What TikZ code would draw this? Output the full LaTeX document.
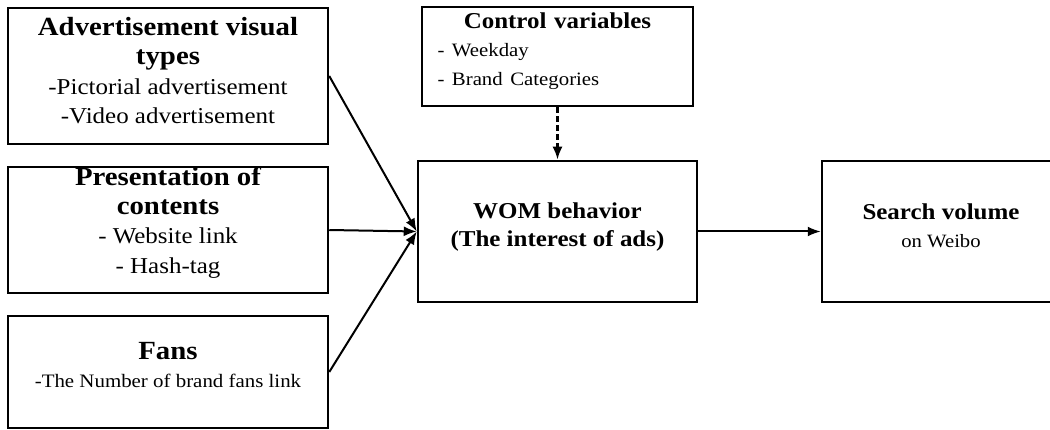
\documentclass[tikz,border=0pt]{standalone}
\usepackage{fontspec}
\setmainfont{Liberation Serif}[FakeStretch=1.1]
\usetikzlibrary{arrows.meta}
\newcommand\headfont{\fontsize{26.2}{29.3}\selectfont\bfseries}
\newcommand\itemfont{\fontsize{22.7}{29.3}\selectfont\mdseries}
\newcommand\boxhead{\fontsize{22.7}{28.5}\selectfont\bfseries}
\newcommand\boxitem{\fontsize{18.9}{28.5}\selectfont\mdseries}
\tikzstyle{every edge} = [draw,-{Latex[length=13pt,width=10pt]},line width=2pt]
\tikzstyle{block} = [draw,line width=2.5pt,inner sep=0pt,align=center]
\tikzstyle{ctrlarrow} = [dash pattern=on 6pt off 3pt,line width=2.5pt]

\begin{document}
\begin{tikzpicture}[x=1pt,y=-1pt]
\useasboundingbox (0,0) rectangle (1050,430);

\node[block,minimum width=320,minimum height=136,font=\headfont,text depth=11pt] (adv) at (168,76)
  {Advertisement visual\\ types\\
   \itemfont -Pictorial advertisement\\ \itemfont -Video advertisement};
\node[block,minimum width=320,minimum height=114,font=\headfont,text depth=20pt] (pres) at (168,230)
  {Presentation of\\ contents\\
   \itemfont - Website link\\ \itemfont - Hash-tag};
\node[block,minimum width=320,minimum height=112,font=\fontsize{26.2}{28}\selectfont\bfseries,
  text depth=14pt] (fans) at (168,372)
  {Fans\\ \fontsize{19}{28}\selectfont\mdseries -The Number of brand fans link};

\node[block,minimum width=271,minimum height=99,text width=240,align=left,font=\boxhead,
  text depth=72pt] (ctrl) at (557.5,56.5)
  {\makebox[240pt]{Control variables}\\
   \boxitem - Weekday\\ \boxitem - Brand Categories};
\node[block,minimum width=279,minimum height=141,font=\boxhead,text depth=13.5pt] (wom) at (557.5,231.5)
  {WOM behavior\\ (The interest of ads)};
\node[block,minimum width=238,minimum height=141,font=\fontsize{22.7}{28}\selectfont\bfseries,
  text depth=11pt] (search) at (941,231.5)
  {Search volume\\ \fontsize{18.8}{28}\selectfont\mdseries on Weibo};

\draw (adv.east) edge (wom.west);
\draw (pres.east) edge (wom.west);
\draw (fans.east) edge (wom.west);
\draw (ctrl.south) edge[ctrlarrow] (wom.north);
\draw (wom.east) edge (search.west);

\end{tikzpicture}
\end{document}
